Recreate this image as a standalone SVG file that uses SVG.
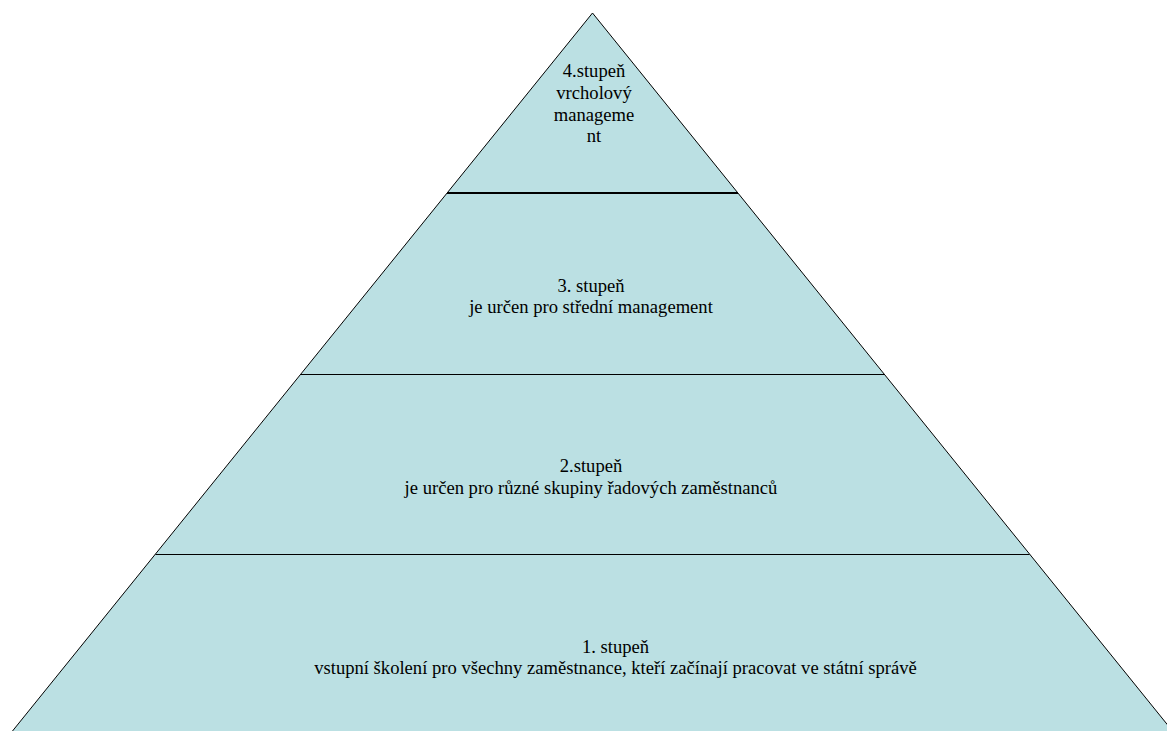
<svg xmlns="http://www.w3.org/2000/svg" width="1167" height="731" viewBox="0 0 1167 731">
<style>
.tier{fill:#BBE0E3;stroke:none}
.lbl{font-family:"Liberation Serif","Times New Roman",serif;font-size:18.6px;fill:#000;text-anchor:middle}
.edge{stroke:#000;fill:none}
</style>
<rect width="1167" height="731" fill="#fff"/>
<g id="tier1"><polygon class="tier" points="155.5,554 1029.5,554 1172.5,731 12.5,731"/>
<text class="lbl"><tspan x="615.5" y="653">1. stupeň</tspan><tspan x="615.5" y="674">vstupní školení pro všechny zaměstnance, kteří začínají pracovat ve státní správě</tspan></text></g>
<g id="tier2"><polygon class="tier" points="301,374 884,374 1029.5,554 155.5,554"/>
<text class="lbl"><tspan x="591" y="472">2.stupeň</tspan><tspan x="591" y="494">je určen pro různé skupiny řadových zaměstnanců</tspan></text></g>
<g id="tier3"><polygon class="tier" points="447,193 738,193 884,374 301,374"/>
<text class="lbl"><tspan x="591" y="292">3. stupeň</tspan><tspan x="591" y="313">je určen pro střední management</tspan></text></g>
<g id="tier4"><polygon class="tier" points="592.5,13 738,193 447,193"/>
<text class="lbl"><tspan x="594" y="77">4.stupeň</tspan><tspan x="594" y="99">vrcholový</tspan><tspan x="594" y="121">manageme</tspan><tspan x="594" y="142">nt</tspan></text></g>
<g id="connectors">
<polyline class="edge" stroke-width="1" stroke="#333" points="12.5,731 592.5,13 1172.5,731"/>
<line class="edge" x1="447" y1="193" x2="738" y2="193" stroke-width="2"/>
<line class="edge" x1="301" y1="374.5" x2="884" y2="374.5" stroke-width="1"/>
<line class="edge" x1="155.5" y1="554.5" x2="1029.5" y2="554.5" stroke-width="1"/>
</g>
</svg>
